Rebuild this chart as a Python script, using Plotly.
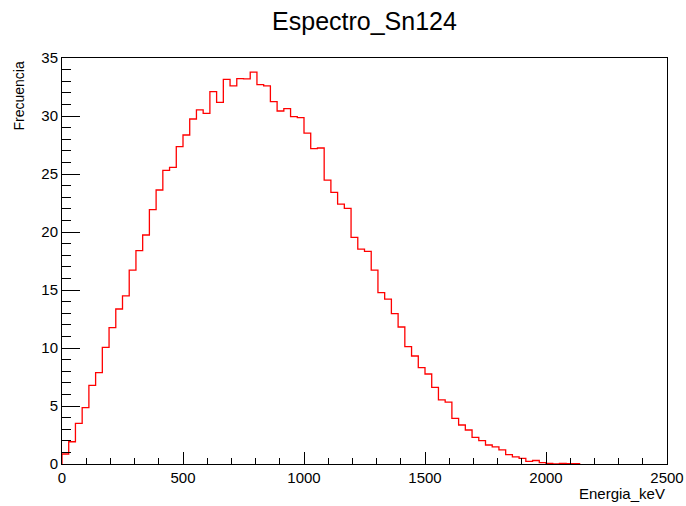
import numpy as np
import plotly.graph_objects as go

# Histogram: 90 bins from 0 to 2500 keV (only first bins non-zero listed)
x_min = 0.0
x_max = 2500.0
n_bins = 90
frecuencia = [
    0.86, 1.92, 3.5, 4.86, 6.78, 7.87, 10.06, 11.75, 13.36, 14.5,
    16.72, 18.39, 19.74, 21.93, 23.62, 25.32, 25.57, 27.36, 28.36, 29.74,
    30.52, 30.23, 32.1, 31.18, 33.16, 32.59, 33.22, 33.2, 33.79, 32.7,
    32.59, 31.24, 30.43, 30.63, 29.94, 29.86, 28.53, 27.18, 27.24, 24.48,
    23.42, 22.41, 22.04, 19.54, 18.53, 18.33, 16.72, 14.77, 14.22, 12.96,
    11.81, 10.11, 9.31, 8.3, 7.76, 6.61, 5.52, 5.34, 3.94, 3.36,
    2.93, 2.3, 2.01, 1.64, 1.47, 1.21, 0.8, 0.62, 0.49, 0.22,
    0.3, 0.12, 0.06, 0.0, 0.05, 0.03, 0.03,
]
title_text = "Espectro_Sn124"
x_title = "Energia_keV"
y_title = "Frecuencia"

bw = (x_max - x_min) / n_bins
edges = [x_min + i * bw for i in range(len(frecuencia) + 1)]
xs = [edges[0]] + edges
ys = [0.0] + list(frecuencia) + [0.0]

fig = go.Figure()
fig.add_trace(go.Scatter(
    x=xs, y=ys, mode="lines", line_shape="hv",
    line=dict(color="#ff0000", width=1.3), hoverinfo="skip", showlegend=False,
))

font = "Liberation Sans, Arial, Helvetica, sans-serif"
fig.update_layout(
    width=686, height=506,
    margin=dict(l=62, r=19, t=58, b=42),
    paper_bgcolor="white", plot_bgcolor="white",
    font=dict(family=font, color="black", size=15),
    title=dict(text=title_text, x=0.5, xref="paper", xanchor="center",
               y=0.958, yref="container", yanchor="middle",
               font=dict(family=font, size=25, color="black")),
    xaxis=dict(range=[x_min, x_max], showgrid=False, zeroline=False, automargin=False,
               showline=True, linecolor="black", linewidth=1, mirror=True,
               tick0=0, dtick=500, ticks="inside", ticklen=12, tickcolor="black",
               tickfont=dict(size=15),
               minor=dict(dtick=100, ticks="inside", ticklen=6, tickcolor="black")),
    yaxis=dict(range=[0, 35], showgrid=False, zeroline=False, automargin=False,
               showline=True, linecolor="black", linewidth=1, mirror=True,
               tick0=0, dtick=5, ticks="inside", ticklen=18, tickcolor="black",
               tickfont=dict(size=15),
               minor=dict(dtick=1, ticks="inside", ticklen=9, tickcolor="black")),
    annotations=[
        dict(text=x_title, xref="paper", yref="paper", x=1.0, y=0,
             xanchor="right", yanchor="middle", yshift=-29, showarrow=False,
             font=dict(family=font, size=15, color="black")),
        dict(text=y_title, xref="paper", yref="paper", x=0, y=1.0,
             xanchor="center", yanchor="top", xshift=-44, yshift=-2, showarrow=False,
             textangle=-90, font=dict(family=font, size=14, color="black")),
    ],
)

fig.write_html("out.html", config={"displayModeBar": False},
               post_script="document.body.style.margin='0';")
